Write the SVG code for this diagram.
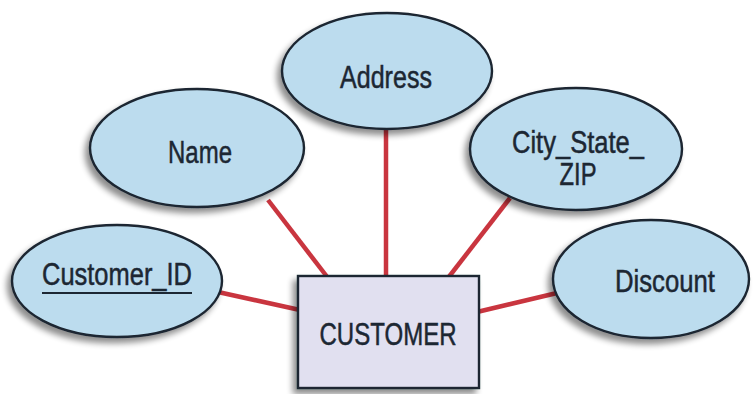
<svg xmlns="http://www.w3.org/2000/svg" width="754" height="394" viewBox="0 0 754 394">
<style>
  .attr { fill: #bcdcee; stroke: #1b2530; stroke-width: 2.4; filter: url(#shadow); }
  .ent { fill: #e1e0f0; stroke: #1b2530; stroke-width: 2.4; filter: url(#shadow); }
  .lbl { font-family: "Liberation Sans", Arial, sans-serif; font-size: 31px; fill: #1c2733; stroke: #1c2733; stroke-width: 0.5; text-anchor: middle; }
  .conn line { stroke: #c9353f; stroke-width: 4.5; stroke-linecap: butt; }
</style>
<defs>
  <filter id="shadow" x="-20%" y="-20%" width="140%" height="150%">
    <feGaussianBlur in="SourceAlpha" stdDeviation="3"/>
    <feOffset dx="-4" dy="5" result="b"/>
    <feComponentTransfer><feFuncA type="linear" slope="0.45"/></feComponentTransfer>
    <feMerge><feMergeNode/><feMergeNode in="SourceGraphic"/></feMerge>
  </filter>
</defs>
<rect width="754" height="394" fill="#ffffff"/>
<g id="connectors" class="conn">
  <line x1="218" y1="292" x2="300" y2="310"/>
  <line x1="268" y1="200" x2="328" y2="278"/>
  <line x1="386" y1="128" x2="386" y2="278"/>
  <line x1="510" y1="198" x2="448" y2="278"/>
  <line x1="557" y1="293" x2="477" y2="312"/>
</g>
<g id="node-customer-id">
  <ellipse class="attr" cx="117" cy="281" rx="105" ry="56"/>
  <text class="lbl" x="117" y="285" textLength="150" lengthAdjust="spacingAndGlyphs">Customer_ID</text>
  <line x1="42" y1="293" x2="192" y2="293" stroke="#1c2733" stroke-width="2"/>
</g>
<g id="node-name">
  <ellipse class="attr" cx="197" cy="148" rx="107" ry="59"/>
  <text class="lbl" x="200" y="163" textLength="64" lengthAdjust="spacingAndGlyphs">Name</text>
</g>
<g id="node-address">
  <ellipse class="attr" cx="387" cy="71" rx="105" ry="58"/>
  <text class="lbl" x="386" y="88" textLength="92" lengthAdjust="spacingAndGlyphs">Address</text>
</g>
<g id="node-city">
  <ellipse class="attr" cx="576" cy="149" rx="106" ry="61"/>
  <text class="lbl" x="578" y="153" textLength="132" lengthAdjust="spacingAndGlyphs">City_State_</text>
  <text class="lbl" x="578" y="185" textLength="37" lengthAdjust="spacingAndGlyphs">ZIP</text>
</g>
<g id="node-discount">
  <ellipse class="attr" cx="651" cy="279" rx="98" ry="59"/>
  <text class="lbl" x="665" y="292" textLength="100" lengthAdjust="spacingAndGlyphs">Discount</text>
</g>
<g id="node-customer">
  <rect class="ent" x="298" y="276" width="181" height="112"/>
  <text class="lbl" x="388" y="345" textLength="137" lengthAdjust="spacingAndGlyphs">CUSTOMER</text>
</g>
</svg>
